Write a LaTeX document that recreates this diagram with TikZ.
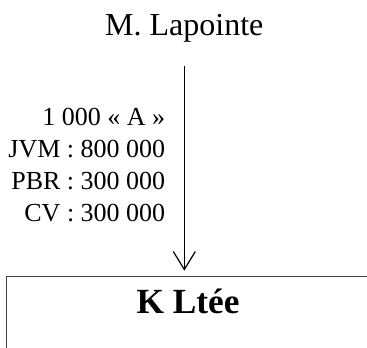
\documentclass[tikz,border=0pt]{standalone}
\usepackage{fontspec}
\setmainfont{Liberation Serif}
\usepackage{tikz}
\usetikzlibrary{arrows.meta,positioning}
\definecolor{OrgLine}{HTML}{000000}
\definecolor{OrgBox}{HTML}{404040}
\tikzset{
  ownername/.style={inner sep=0pt,font=\fontsize{24}{28}\selectfont},
  sharenote/.style={inner sep=0pt,align=right,font=\fontsize{19.5}{24.2}\selectfont},
  companybox/.style={draw=OrgBox,line width=0.8pt,inner sep=0pt,text height=27.75pt,text depth=37.5pt,
    minimum width=272.25pt,font=\bfseries\fontsize{26.5}{30}\selectfont},
  holding/.style={-{Straight Barb[length=13.5pt,width=16.5pt,line width=0.9pt]},line width=1.2pt,draw=OrgLine}
}
\begin{document}
\begin{tikzpicture}[x=0.75pt,y=-0.75pt]
  \useasboundingbox (0,0) rectangle (367,348);
  \clip (0,0) rectangle (367,348);
  \node[ownername,anchor=base] (lapointe) at (184.3,36) {M. Lapointe};
  \node[sharenote,anchor=base east] (shares) at (165.5,222) {1 000 « A »\\JVM : 800 000\\PBR : 300 000\\CV : 300 000};
  \node[companybox,anchor=north west] (kltee) at (6,276) {K Ltée};

  \draw[holding,shorten <=17pt,shorten >=4pt] (lapointe) -- (lapointe |- kltee.north);
\end{tikzpicture}
\end{document}
